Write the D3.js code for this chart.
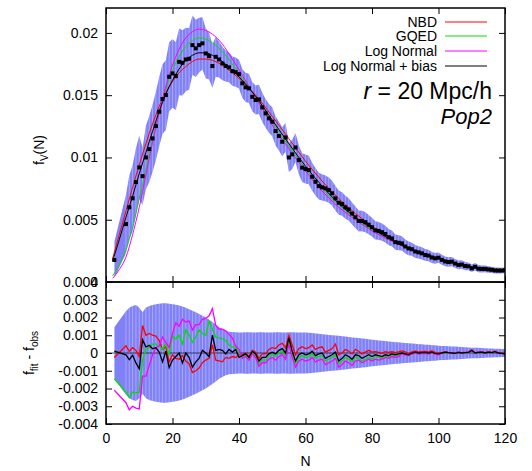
<!DOCTYPE html>
<html><head><meta charset="utf-8">
<script src="https://cdn.jsdelivr.net/npm/d3@7"></script>
<style>
body{margin:0;background:#fff;}
svg{display:block;}
text{font-family:"Liberation Sans",Arial,Helvetica,sans-serif;}
</style>
</head><body>
<svg id="chart" width="532" height="471"></svg>
<script>
// ---------- DATA ----------
const nObs = [2.5,6,7,8,9,10,11,12,13,14,15,16,17,18,19,20,
 21,22,23,24,25,26,27,28,29,30,
 31,32,33,34,35,36,37,38,39,40,
 41,42,43,44,45,46,47,48,49,50,
 51,52,53,54,55,56,57,58,59,60,
 61,62,63,64,65,66,67,68,69,70,
 71,72,73,74,75,76,77,78,79,80,
 81,82,83,84,85,86,87,88,89,90,
 91,92,93,94,95,96,97,98,99,100,
 101,102,103,104,105,106,107,108,109,110,
 111,112,113,114,115,116,117,118,119,120];

const fObs = [0.00177,0.00465,0.00600,0.00672,0.00803,0.00920,0.00850,0.01000,0.01067,0.01153,0.01252,0.01367,0.01469,0.01501,0.01648,0.01675,
 0.01653,0.01768,0.01760,0.01787,0.01792,0.01902,0.01876,0.01902,0.01916,0.01835,
 0.01814,0.01734,0.01808,0.01787,0.01755,0.01734,0.01723,0.01693,0.01685,0.01669,
 0.01595,0.01563,0.01555,0.01487,0.01461,0.01466,0.01402,0.01354,0.01314,0.01287,
 0.01212,0.01172,0.01126,0.01161,0.01000,0.01025,0.01080,0.00979,0.00918,0.00907,
 0.00899,0.00845,0.00805,0.00770,0.00760,0.00752,0.00738,0.00712,0.00672,0.00637,
 0.00626,0.00600,0.00583,0.0055,0.0052,0.0049,0.0049,0.0048,0.0046,0.0044,
 0.00415,0.0041,0.0040,0.00385,0.0036,0.0035,0.0032,0.00315,0.0031,0.00285,
 0.0027,0.00263,0.00245,0.00238,0.0023,0.00217,0.00212,0.00197,0.0019,0.00195,
 0.00178,0.00165,0.0016,0.00163,0.00148,0.00137,0.0014,0.00128,0.00126,0.0011,
 0.00122,0.00107,0.00105,0.00105,0.00101,0.00098,0.00093,0.00092,0.00092,0.00095];

// error (1e-3 units)
const sigmaMilli = [1.45,2.35,2.55,2.65,2.7,2.55,2.3,2.55,2.65,2.7,2.75,2.78,2.8,2.8,2.78,2.75,
 2.72,2.68,2.62,2.55,2.47,2.38,2.3,2.2,2.1,2.0,
 1.88,1.75,1.6,1.45,1.35,1.25,1.2,1.18,1.17,1.16,
 1.16,1.17,1.17,1.16,1.16,1.17,1.17,1.16,1.16,1.16,
 1.17,1.17,1.16,1.16,1.17,1.17,1.16,1.16,1.16,1.16,
 1.14,1.12,1.10,1.08,1.06,1.04,1.02,1.0,0.98,0.97,
 0.95,0.93,0.9,0.88,0.86,0.84,0.82,0.8,0.77,0.75,
 0.73,0.71,0.69,0.67,0.65,0.63,0.61,0.6,0.58,0.56,
 0.55,0.53,0.52,0.5,0.49,0.47,0.46,0.44,0.43,0.41,
 0.4,0.39,0.38,0.37,0.36,0.35,0.34,0.33,0.31,0.3,
 0.3,0.29,0.28,0.27,0.26,0.25,0.24,0.24,0.23,0.22];

// residuals f_fit - f_obs (1e-3 units)
const resNBDMilli = [-0.25,0.4,0.1,0.3,0.15,-0.2,1.55,1.0,1.1,1.0,0.95,0.7,0.2,0.35,-0.5,-0.1,
 -0.3,-0.35,-0.15,-0.45,-0.6,-1.1,-1.0,-0.85,-0.55,-0.4,
 -0.3,0.45,-0.4,-0.45,-0.5,-0.25,-0.3,-0.2,-0.25,-0.1,
 -0.1,0.0,-0.2,0.15,0.05,-0.3,-0.05,-0.05,0.2,0.3,
 0.25,0.45,0.55,0.3,1.0,0.45,-0.1,0.25,0.35,0.25,
 0.3,0.45,0.2,0.3,0.35,0.05,0.15,0.25,0.5,-0.1,
 0.0,0.2,0.1,-0.05,0.2,0.1,-0.05,0.05,0.15,0.05,
 0.08,0.03,-0.02,0.08,0.03,0.07,0.02,0.07,0.12,0.07,
 -0.04,0.06,0.11,0.06,0.08,0.09,0.06,0.11,0.04,0.01,
 0.02,0.07,0.04,0.02,0.0,0.05,0.02,0.04,0.05,0.17,
 0.02,0.05,0.07,0.02,0.07,0.04,0.1,0.02,0.0,-0.03];

const resGQEDMilli = [-1.45,-2.2,-2.5,-2.2,-2.25,-2.2,-0.4,0.2,0.3,0.5,0.5,0.4,0.2,0.5,-0.1,0.95,
 0.8,1.0,0.5,1.3,1.0,0.6,0.9,1.3,1.1,1.0,
 1.8,1.35,0.9,0.85,0.8,0.7,0.45,0.35,0.3,0.05,
 -0.25,-0.15,-0.35,0.0,-0.15,-0.6,-0.4,-0.4,-0.2,-0.1,
 -0.2,0.0,0.1,-0.15,0.7,-0.05,-0.6,-0.25,-0.15,-0.25,
 -0.2,-0.05,-0.3,-0.2,-0.15,-0.45,-0.35,-0.25,-0.1,-0.6,
 -0.45,-0.25,-0.35,-0.5,-0.25,-0.3,-0.45,-0.35,-0.25,-0.35,
 -0.18,-0.23,-0.28,-0.18,-0.23,-0.13,-0.18,-0.13,-0.03,-0.08,
 -0.13,-0.03,0.02,-0.03,-0.01,0.0,-0.03,0.02,-0.05,-0.08,
 -0.01,0.04,0.01,-0.01,-0.03,0.02,-0.01,0.01,0.02,0.14,
 -0.01,0.02,0.04,-0.01,0.04,0.01,0.07,-0.01,-0.03,-0.06];

const resLNMilli = [-2.1,-2.8,-3.2,-3.0,-3.1,-3.15,-1.3,-1.3,-0.7,-0.1,0.3,0.4,0.9,0.6,0.3,1.1,
 1.7,1.5,1.9,1.75,1.8,1.3,1.6,1.6,1.9,1.95,
 2.1,2.5,1.55,1.35,1.35,1.25,1.05,0.85,0.4,0.2,
 -0.3,-0.2,-0.4,-0.05,-0.25,-0.75,-0.55,-0.55,-0.35,-0.25,
 -0.4,-0.2,-0.1,-0.35,0.5,-0.25,-0.8,-0.45,-0.35,-0.45,
 -0.4,-0.25,-0.5,-0.4,-0.35,-0.65,-0.55,-0.45,-0.3,-0.8,
 -0.65,-0.45,-0.55,-0.7,-0.45,-0.4,-0.55,-0.45,-0.35,-0.45,
 -0.35,-0.4,-0.35,-0.25,-0.3,-0.2,-0.25,-0.2,-0.05,-0.1,
 -0.15,-0.05,0.0,-0.05,-0.03,-0.02,-0.05,0.0,-0.07,-0.1,
 0.0,0.05,0.02,0.0,-0.02,0.03,0.0,0.02,0.03,0.15,
 0.0,0.03,0.05,0.0,0.05,0.02,0.08,0.0,-0.02,-0.05];

const resLNBMilli = [0.1,-0.1,-0.37,-0.13,-0.56,-0.88,0.75,0.34,0.43,0.24,0.3,0.05,-0.5,0.1,-0.82,-0.4,
 -0.2,0.0,-0.56,0.0,-0.25,-0.8,-0.5,-0.3,0.15,0.0,
 -0.2,1.0,0.15,0.2,0.15,-0.05,0.2,0.05,0.2,-0.25,
 -0.15,-0.05,-0.25,0.1,-0.05,-0.45,-0.25,-0.25,-0.05,0.05,
 -0.05,0.15,0.25,0.0,0.85,0.1,-0.45,-0.1,0.0,-0.1,
 -0.05,0.1,-0.15,-0.05,0.0,-0.3,-0.2,-0.1,0.05,-0.45,
 -0.3,-0.1,-0.2,-0.35,-0.1,-0.15,-0.3,-0.2,-0.1,-0.2,
 -0.1,-0.15,-0.2,-0.1,-0.15,-0.05,-0.1,-0.05,0.0,-0.05,
 -0.1,0.0,0.05,0.0,0.02,0.03,0.0,0.05,-0.02,-0.05,
 0.0,0.05,0.02,0.0,-0.02,0.03,0.0,0.02,0.03,0.15,
 0.0,0.03,0.05,0.0,0.05,0.02,0.08,0.0,-0.02,-0.05];

// fitted models (top panel)
const nFit = [2,4,6,8,10,12,14,16,18,20,22,24,26,28,30,32,35,38,41,45,50,55,60,65,70,75,80,85,90,95,100,105,110,115,120];
const fitNBD  = [0.0019,0.0038,0.0057,0.0076,0.0094,0.0111,0.0127,0.0141,0.0152,0.0161,0.0168,0.0173,0.0177,0.0179,0.0179,0.0178,0.0174,0.0168,0.0161,0.0150,0.0133,0.0115,0.0097,0.0081,0.0067,0.0055,0.0045,0.0036,0.0029,0.0023,0.0019,0.0015,0.0012,0.00105,0.0009];
const fitGQED = [0.0005,0.0014,0.0026,0.0044,0.0067,0.0090,0.0114,0.0136,0.0155,0.0170,0.0181,0.0189,0.0194,0.0196,0.0195,0.0192,0.0185,0.0175,0.0164,0.0148,0.0128,0.0109,0.0091,0.0075,0.0062,0.0051,0.0042,0.0035,0.0028,0.0023,0.0019,0.0015,0.0012,0.00105,0.0009];
const fitLN   = [0.0003,0.0010,0.0020,0.0038,0.0060,0.0086,0.0112,0.0136,0.0157,0.0174,0.0187,0.0196,0.0201,0.0203,0.0202,0.0199,0.0191,0.0179,0.0166,0.0148,0.0126,0.0107,0.0089,0.0073,0.0060,0.0050,0.0041,0.0034,0.0028,0.0023,0.0019,0.0015,0.0012,0.00105,0.0009];
const fitLNB  = [0.0017,0.0034,0.0052,0.0069,0.0087,0.0104,0.0121,0.0137,0.0151,0.0162,0.0171,0.0178,0.0182,0.0184,0.0184,0.0182,0.0177,0.0170,0.0162,0.0149,0.0130,0.0111,0.0093,0.0077,0.0063,0.0052,0.0043,0.0035,0.0028,0.0023,0.0019,0.0015,0.0012,0.00105,0.0009];

const seriesNames  = ["NBD","GQED","Log Normal","Log Normal + bias"];
const seriesColors = ["#ff0000","#00e000","#ff00ff","#000000"];

const xTicks = [0,20,40,60,80,100,120];
const xTickLabels = ["0","20","40","60","80","100","120"];
const yTopTicks = [0,0.005,0.01,0.015,0.02];
const yTopTickLabels = ["0","0.005","0.01","0.015","0.02"];
const yBotTicks = [-0.004,-0.003,-0.002,-0.001,0,0.001,0.002,0.003,0.004];
const yBotTickLabels = ["-0.004","-0.003","-0.002","-0.001","0","0.001","0.002","0.003","0.004"];

// ---------- LAYOUT ----------
const L = 106, R = 505, T = 8, M = 282, B = 424;
const svg = d3.select("#chart");

const x = d3.scaleLinear().domain([0,120]).range([L,R]);
const yTop = d3.scaleLinear().domain([0,0.022]).range([M,T]);
const yBot = d3.scaleLinear().domain([-0.004,0.004]).range([B,M]);

const n = Math.min(nObs.length, fObs.length, sigmaMilli.length);
const obs = d3.range(n).map(i => ({n:nObs[i], f:fObs[i], s:sigmaMilli[i]/1000}));

const defs = svg.append("defs");
defs.append("clipPath").attr("id","clipTop").append("rect").attr("x",L).attr("y",T).attr("width",R-L).attr("height",M-T);
defs.append("clipPath").attr("id","clipBot").append("rect").attr("x",L).attr("y",M).attr("width",R-L).attr("height",B-M);

const bandColor = "#8080f8";

// ---- top band ----
const areaTop = d3.area().x(d=>x(d.n)).y0(d=>yTop(Math.max(0,d.f-d.s))).y1(d=>yTop(d.f+d.s));
defs.append("clipPath").attr("id","bandTopClip").append("path").attr("d", areaTop(obs));
const gTop = svg.append("g").attr("clip-path","url(#clipTop)");
gTop.append("path").attr("d", areaTop(obs)).attr("fill", bandColor);
gTop.append("g").attr("clip-path","url(#bandTopClip)").selectAll("line").data(obs).join("line")
  .attr("x1",d=>x(d.n)).attr("x2",d=>x(d.n)).attr("y1",T).attr("y2",M)
  .attr("stroke","#ffffff").attr("stroke-opacity",0.4).attr("stroke-width",0.8);

// fits
const fits = [fitNBD, fitGQED, fitLN, fitLNB];
fits.forEach((arr,k) => {
  const pts = nFit.map((nn,i)=>({n:nn, f:arr[i]}));
  gTop.append("path").attr("d", d3.line().x(d=>x(d.n)).y(d=>yTop(d.f)).curve(d3.curveMonotoneX)(pts))
    .attr("fill","none").attr("stroke",seriesColors[k]).attr("stroke-width",1);
});
// observed points
gTop.append("g").selectAll("rect").data(obs).join("rect")
  .attr("x",d=>x(d.n)-2).attr("y",d=>yTop(d.f)-2).attr("width",4).attr("height",4).attr("fill","#000");

// ---- bottom band ----
const areaBot = d3.area().x(d=>x(d.n)).y0(d=>yBot(-d.s)).y1(d=>yBot(d.s));
defs.append("clipPath").attr("id","bandBotClip").append("path").attr("d", areaBot(obs));
const gBot = svg.append("g").attr("clip-path","url(#clipBot)");
gBot.append("path").attr("d", areaBot(obs)).attr("fill", bandColor);
gBot.append("g").attr("clip-path","url(#bandBotClip)").selectAll("line").data(obs).join("line")
  .attr("x1",d=>x(d.n)).attr("x2",d=>x(d.n)).attr("y1",M).attr("y2",B)
  .attr("stroke","#ffffff").attr("stroke-opacity",0.4).attr("stroke-width",0.8);
gBot.append("line").attr("x1",L).attr("x2",R).attr("y1",yBot(0)).attr("y2",yBot(0))
  .attr("stroke","#222").attr("stroke-width",0.8);

const residuals = [resNBDMilli, resGQEDMilli, resLNMilli, resLNBMilli];
residuals.forEach((arr,k) => {
  const pts = obs.map((d,i)=>({n:d.n, r:arr[i]/1000})).filter(d=>d.r!==undefined && !isNaN(d.r));
  gBot.append("path").attr("d", d3.line().x(d=>x(d.n)).y(d=>yBot(d.r))(pts))
    .attr("fill","none").attr("stroke",seriesColors[k]).attr("stroke-width",1.3);
});

// ---------- AXES ----------
function styleAxis(g){
  g.select(".domain").remove();
  g.selectAll(".tick line").attr("stroke","#000").attr("stroke-width",1);
  g.selectAll(".tick text").attr("fill","#000").style("font-size","14px")
    .style("font-family",'"Liberation Sans",Arial,Helvetica,sans-serif');
  g.attr("font-family",null).attr("font-size",null);
}
// top panel
styleAxis(svg.append("g").attr("transform",`translate(${L},0)`)
  .call(d3.axisLeft(yTop).tickValues(yTopTicks).tickFormat((d,i)=>yTopTickLabels[i]).tickSize(-6).tickPadding(8)));
styleAxis(svg.append("g").attr("transform",`translate(${R},0)`)
  .call(d3.axisRight(yTop).tickValues(yTopTicks).tickFormat("").tickSize(-6)));
styleAxis(svg.append("g").attr("transform",`translate(0,${M})`)
  .call(d3.axisBottom(x).tickValues(xTicks).tickFormat("").tickSize(-6)));
styleAxis(svg.append("g").attr("transform",`translate(0,${T})`)
  .call(d3.axisTop(x).tickValues(xTicks).tickFormat("").tickSize(-6)));
// bottom panel
styleAxis(svg.append("g").attr("transform",`translate(${L},0)`)
  .call(d3.axisLeft(yBot).tickValues(yBotTicks).tickFormat((d,i)=>yBotTickLabels[i]).tickSize(-6).tickPadding(8)));
styleAxis(svg.append("g").attr("transform",`translate(${R},0)`)
  .call(d3.axisRight(yBot).tickValues(yBotTicks).tickFormat("").tickSize(-6)));
styleAxis(svg.append("g").attr("transform",`translate(0,${M})`)
  .call(d3.axisTop(x).tickValues(xTicks).tickFormat("").tickSize(-6)));
styleAxis(svg.append("g").attr("transform",`translate(0,${B})`)
  .call(d3.axisBottom(x).tickValues(xTicks).tickFormat((d,i)=>xTickLabels[i]).tickSize(-6).tickPadding(9)));

// frames
svg.append("rect").attr("x",L).attr("y",T).attr("width",R-L).attr("height",M-T)
  .attr("fill","none").attr("stroke","#000").attr("stroke-width",1.5);
svg.append("rect").attr("x",L).attr("y",M).attr("width",R-L).attr("height",B-M)
  .attr("fill","none").attr("stroke","#000").attr("stroke-width",1.5);

// axis titles
const t1 = svg.append("text").attr("transform","translate(44,150) rotate(-90)")
  .attr("text-anchor","middle").style("font-size","14px");
t1.append("tspan").text("f");
t1.append("tspan").attr("dy",4).style("font-size","10px").text("V");
t1.append("tspan").attr("dy",-4).text("(N)");

const t2 = svg.append("text").attr("transform","translate(34,353) rotate(-90)")
  .attr("text-anchor","middle").style("font-size","14px");
t2.append("tspan").text("f");
t2.append("tspan").attr("dy",4).style("font-size","10px").text("fit");
t2.append("tspan").attr("dy",-4).text(" - f");
t2.append("tspan").attr("dy",4).style("font-size","10px").text("obs");

svg.append("text").attr("x",(L+R)/2).attr("y",466).attr("text-anchor","middle")
  .style("font-size","14px").text("N");

// legend
const legY = [26.5, 41.3, 56, 70.8];
seriesNames.forEach((name,k)=>{
  svg.append("text").attr("x",437).attr("y",legY[k]).attr("text-anchor","end")
    .style("font-size","14px").text(name);
  const ly = Math.round(legY[k]-5);
  svg.append("line").attr("x1",445).attr("x2",487).attr("y1",ly).attr("y2",ly)
    .attr("stroke",seriesColors[k]).attr("stroke-width",1);
});

// annotations
const a1 = svg.append("text").attr("x",492).attr("y",99).attr("text-anchor","end").style("font-size","23px");
a1.append("tspan").style("font-style","italic").text("r");
a1.append("tspan").text(" = 20 Mpc/h");
svg.append("text").attr("x",492).attr("y",124).attr("text-anchor","end")
  .style("font-size","22px").style("font-style","italic").text("Pop2");
</script>
</body></html>
